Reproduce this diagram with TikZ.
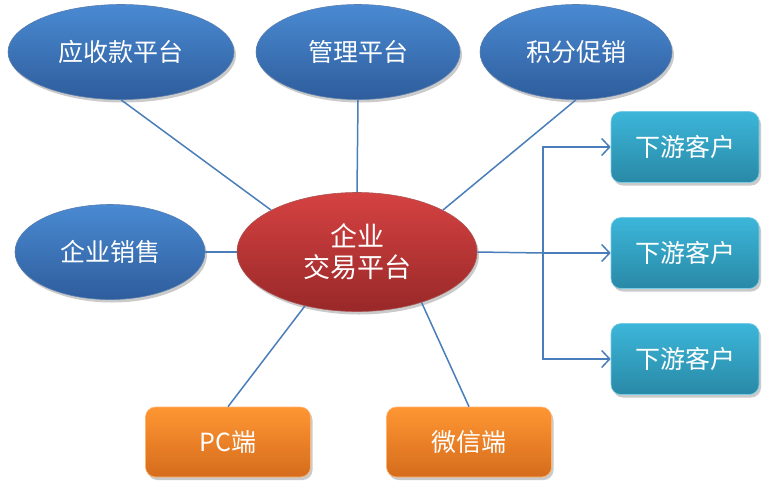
\documentclass[tikz,border=0pt]{standalone}
\usepackage{fontspec}
\setmainfont{Noto Sans CJK SC}
\usetikzlibrary{shapes.geometric,shadows,arrows.meta}
\definecolor{lineblue}{HTML}{4A7EBB}
\definecolor{bluetop}{HTML}{4A8AD2}
\definecolor{bluebot}{HTML}{2E5D9C}
\definecolor{redtop}{HTML}{D54242}
\definecolor{redbot}{HTML}{992828}
\definecolor{tealtop}{HTML}{3CB6DA}
\definecolor{tealbot}{HTML}{2989A6}
\definecolor{orgtop}{HTML}{FF9633}
\definecolor{orgbot}{HTML}{D56C1C}
\tikzset{
  lbl/.style={text=white,font=\fontsize{25}{30}\selectfont,align=center},
  shad/.style={drop shadow={shadow xshift=2pt,shadow yshift=-3pt,opacity=0.35,fill=black!60}},
  blueell/.style={ellipse,inner sep=0pt,lbl,shad,top color=bluetop,bottom color=bluebot,draw=bluebot!80!white,line width=0.6pt},
  redell/.style={ellipse,inner sep=0pt,lbl,shad,top color=redtop,bottom color=redbot,draw=redbot!80!white,line width=0.6pt,font=\fontsize{27}{31}\selectfont},
  tealbox/.style={rounded corners=10pt,inner sep=0pt,lbl,shad,top color=tealtop,bottom color=tealbot,draw=tealtop!70!white,line width=0.6pt,minimum width=148pt,minimum height=71pt},
  orgbox/.style={rounded corners=10pt,inner sep=0pt,lbl,shad,top color=orgtop,bottom color=orgbot,draw=orgtop!70!white,line width=0.6pt,minimum width=165pt,minimum height=70pt},
  conn/.style={draw=lineblue,line width=1.5pt},
  arr/.style={conn,-{Straight Barb[length=8pt,width=17pt,line width=1.5pt]}}
}
\begin{document}
\begin{tikzpicture}[x=1pt,y=-1pt]
\useasboundingbox (0,0) rectangle (768,491);
\coordinate (j) at (543,253);
\node[blueell,minimum width=226pt,minimum height=95pt] (ys) at (121,52) {应收款平台};
\node[blueell,minimum width=204pt,minimum height=95pt] (gl) at (358,52) {管理平台};
\node[blueell,minimum width=192pt,minimum height=95pt] (jf) at (576,52) {积分促销};
\node[blueell,minimum width=190pt,minimum height=95pt] (xs) at (110,252) {企业销售};
\node[redell,minimum width=240pt,minimum height=119pt] (c) at (357,252) {企业\\[0pt]交易平台};
\node[tealbox] (k1) at (685,147) {下游客户};
\node[tealbox] (k2) at (685,253) {下游客户};
\node[tealbox] (k3) at (685,359) {下游客户};
\node[orgbox] (pc) at (228,442) {PC端};
\node[orgbox] (wx) at (469,442) {微信端};
\draw[conn] (ys.south) -- (c.154);
\draw[conn] (gl.south) -- (c.north);
\draw[conn] (jf.south) -- (c.26);
\draw[conn] (xs.east) -- (c.west);
\draw[conn] (c.226) -- (pc.north);
\draw[conn] (c.322) -- (wx.north);
\draw[conn] (c.east) -- (j);
\draw[arr] (j) -- (k2.west);
\draw[arr] (j) |- (k1.west);
\draw[arr] (j) |- (k3.west);
\end{tikzpicture}
\end{document}
